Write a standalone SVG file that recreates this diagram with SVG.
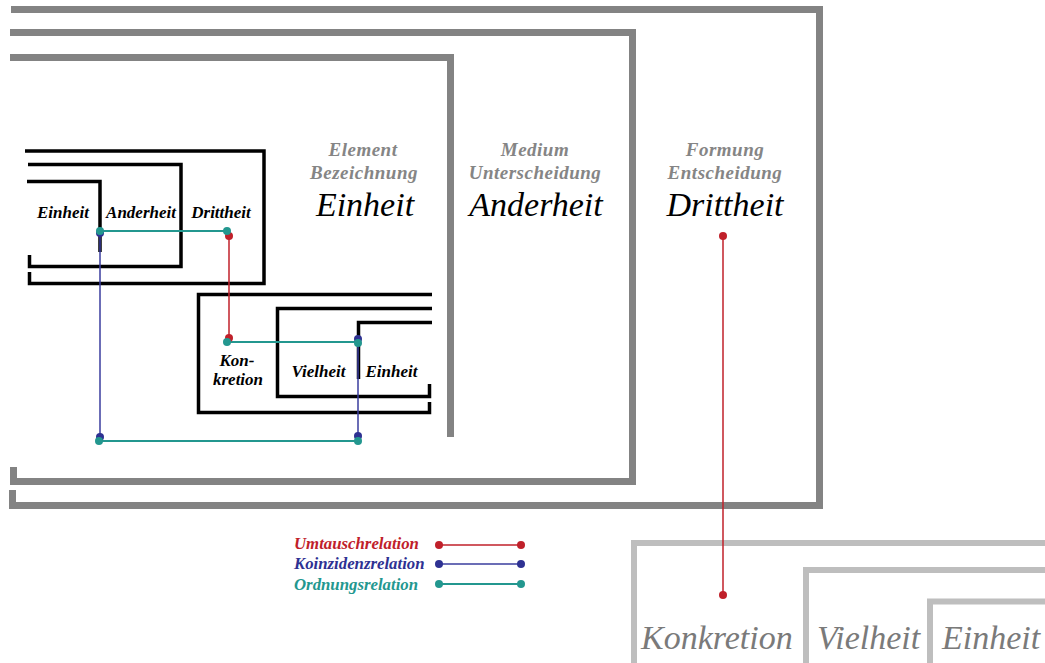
<svg xmlns="http://www.w3.org/2000/svg" width="1045" height="663" viewBox="0 0 1045 663">
<style>
.g{fill:none;stroke:#838383;stroke-width:7;stroke-linejoin:miter;stroke-linecap:butt}
.lg{fill:none;stroke:#bebebe;stroke-width:6;stroke-linejoin:miter}
.b{fill:none;stroke:#000;stroke-width:3.5;stroke-linejoin:miter}
.hd{font-family:"Liberation Serif",serif;font-style:italic;font-weight:bold;font-size:19px;letter-spacing:0.5px;fill:#858585;text-anchor:middle}
.big{font-family:"Liberation Serif",serif;font-style:italic;font-size:34px;fill:#000;text-anchor:middle}
.bot{font-family:"Liberation Serif",serif;font-style:italic;font-size:34px;fill:#7a7a7a}
.sm{font-family:"Liberation Serif",serif;font-style:italic;font-weight:bold;font-size:17px;fill:#000;text-anchor:middle}
.lgd{font-family:"Liberation Serif",serif;font-style:italic;font-weight:bold;font-size:16.8px}
.red{stroke:#c0202a;stroke-width:1.5;fill:none}
.blue{stroke:#3a3d9e;stroke-width:1.5;fill:none}
.teal{stroke:#23978f;stroke-width:1.8;fill:none}
.rd{fill:#c0202a}
.bd{fill:#2e3192}
.td{fill:#23978f}
</style>
<rect width="1045" height="663" fill="#fff"/>
<g id="formung">
<path class="g" d="M11 9.5 H819.5 V505.5 H12.5 V490"/>
<text class="hd" x="725" y="156">Formung</text>
<text class="hd" x="725" y="179">Entscheidung</text>
<text class="big" x="725" y="216">Drittheit</text>
</g>
<g id="medium">
<path class="g" d="M10 32.5 H632.5 V481.5 H13.5 V467"/>
<text class="hd" x="535" y="156">Medium</text>
<text class="hd" x="535" y="179">Unterscheidung</text>
<text class="big" x="536" y="216">Anderheit</text>
</g>
<g id="element">
<path class="g" d="M10 57.5 H450.5 V437"/>
<text class="hd" x="363" y="156">Element</text>
<text class="hd" x="364" y="179">Bezeichnung</text>
<text class="big" x="365" y="216">Einheit</text>
</g>
<g id="small-drittheit">
<path class="b" d="M25 151 H264 V283.5 H29.5 V272"/>
<text class="sm" x="221" y="218">Drittheit</text>
</g>
<g id="small-anderheit">
<path class="b" d="M28 164.5 H181 V266.5 H29.5 V255"/>
<text class="sm" x="141" y="218">Anderheit</text>
</g>
<g id="small-einheit">
<path class="b" d="M27 181.5 H100 V252"/>
<text class="sm" x="63" y="218">Einheit</text>
</g>
<g id="small-konkretion">
<path class="b" d="M432 294.5 H198.5 V412.5 H429.5 V402"/>
<text class="sm" x="237" y="366">Kon-</text>
<text class="sm" x="238" y="385">kretion</text>
</g>
<g id="small-vielheit">
<path class="b" d="M432 308.5 H277.5 V396.5 H429.5 V384"/>
<text class="sm" x="318.5" y="377">Vielheit</text>
</g>
<g id="small-einheit2">
<path class="b" d="M432 322.5 H358.5 V379"/>
<text class="sm" x="391.5" y="377">Einheit</text>
</g>
<g id="bottom-konkretion">
<path class="lg" d="M634 663 V543 H1045"/>
<text class="bot" x="641" y="649">Konkretion</text>
</g>
<g id="bottom-vielheit">
<path class="lg" d="M806 663 V570 H1045"/>
<text class="bot" x="817" y="649">Vielheit</text>
</g>
<g id="bottom-einheit">
<path class="lg" d="M930 663 V601.5 H1045"/>
<text class="bot" x="942" y="649">Einheit</text>
</g>
<g id="connectors">
<line class="red" x1="229" y1="236" x2="229" y2="338"/>
<line class="red" x1="723" y1="236" x2="723" y2="595"/>
<line class="blue" x1="100" y1="231" x2="100" y2="437"/>
<line class="blue" x1="358" y1="339" x2="358" y2="437"/>
<line class="teal" x1="100" y1="231" x2="227" y2="231"/>
<line class="teal" x1="227" y1="342" x2="358" y2="342"/>
<line class="teal" x1="99" y1="441" x2="358" y2="441"/>
<circle class="rd" cx="229" cy="236" r="4"/>
<circle class="rd" cx="229" cy="338" r="4"/>
<circle class="rd" cx="723" cy="236" r="4"/>
<circle class="rd" cx="723" cy="595" r="4"/>
<circle class="bd" cx="100" cy="233" r="4"/>
<circle class="bd" cx="358" cy="339" r="4"/>
<circle class="bd" cx="100" cy="437" r="4"/>
<circle class="bd" cx="358" cy="436" r="4"/>
<circle class="td" cx="100" cy="231" r="4"/>
<circle class="td" cx="227" cy="231" r="4"/>
<circle class="td" cx="227" cy="342" r="4"/>
<circle class="td" cx="358" cy="343" r="4"/>
<circle class="td" cx="99" cy="441" r="4"/>
<circle class="td" cx="358" cy="441" r="4"/>
</g>
<g id="legend">
<text class="lgd" x="294" y="549" fill="#c0202a">Umtauschrelation</text>
<text class="lgd" x="294" y="569" fill="#2e3192">Koinzidenzrelation</text>
<text class="lgd" x="294" y="590" fill="#23978f">Ordnungsrelation</text>
<line class="red" x1="439" y1="545" x2="521" y2="545"/>
<line class="blue" x1="439" y1="564" x2="521" y2="564"/>
<line class="teal" x1="439" y1="584" x2="521" y2="584"/>
<circle class="rd" cx="439" cy="545" r="4"/>
<circle class="rd" cx="521" cy="545" r="4"/>
<circle class="bd" cx="439" cy="564" r="4"/>
<circle class="bd" cx="521" cy="564" r="4"/>
<circle class="td" cx="439" cy="584" r="4"/>
<circle class="td" cx="521" cy="584" r="4"/>
</g>
</svg>
